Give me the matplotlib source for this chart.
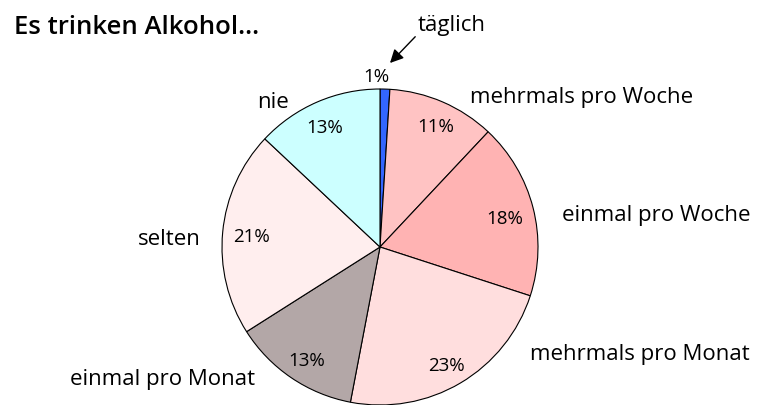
import matplotlib.pyplot as plt

# Data
categories = ['täglich', 'mehrmals pro Woche', 'einmal pro Woche', 'mehrmals pro Monat',
              'einmal pro Monat', 'selten', 'nie']
values = [1, 11, 18, 23, 13, 21, 13]
colors = ['#3366ff', '#ffc3c3', '#ffb3b3', '#ffdede', '#b3a7a7', '#ffeeee', '#ccffff']

W, H = 758, 406
plt.rcParams['font.family'] = ['Open Sans', 'DejaVu Sans']

fig = plt.figure(figsize=(W / 100, H / 100), dpi=100)
ax = fig.add_axes([0, 0, 1, 1])

# pie centre and radius in pixel coordinates (y measured from bottom)
cx, cy, r = 380, H - 248, 158
ax.pie(values, colors=colors, startangle=90, counterclock=False,
       center=(cx, cy), radius=r, frame=True,
       wedgeprops=dict(edgecolor='black', linewidth=0.8))
ax.set_xlim(0, W)
ax.set_ylim(0, H)
ax.set_aspect('equal')
ax.axis('off')

# label layout (pixel positions, y from top)
name_pos = [None, (470, 97), (562, 216), (530, 355), (70, 380), (138, 240), (257, 103)]
pct_pos = [(376, 77), (436, 127), (505, 219), (446, 366), (307, 361), (251, 237), (325, 128)]

for name, v, npos, ppos in zip(categories, values, name_pos, pct_pos):
    ax.text(ppos[0], H - ppos[1], f'{v}%', ha='center', va='center', fontsize=13.5)
    if npos is not None:
        ax.text(npos[0], H - npos[1], name, ha='left', va='center', fontsize=16)

# täglich with arrow
ax.annotate(categories[0], xy=(390, H - 64), xytext=(418, H - 25),
            ha='left', va='center', fontsize=16,
            arrowprops=dict(arrowstyle='-|>', color='black', lw=1,
                            mutation_scale=20, shrinkA=0, shrinkB=0,
                            relpos=(0.05, 0.2)))

ax.text(14, H - 28, 'Es trinken Alkohol...', ha='left', va='center',
        fontsize=18.5, fontweight='semibold')

fig.savefig('out.png', dpi=100)
